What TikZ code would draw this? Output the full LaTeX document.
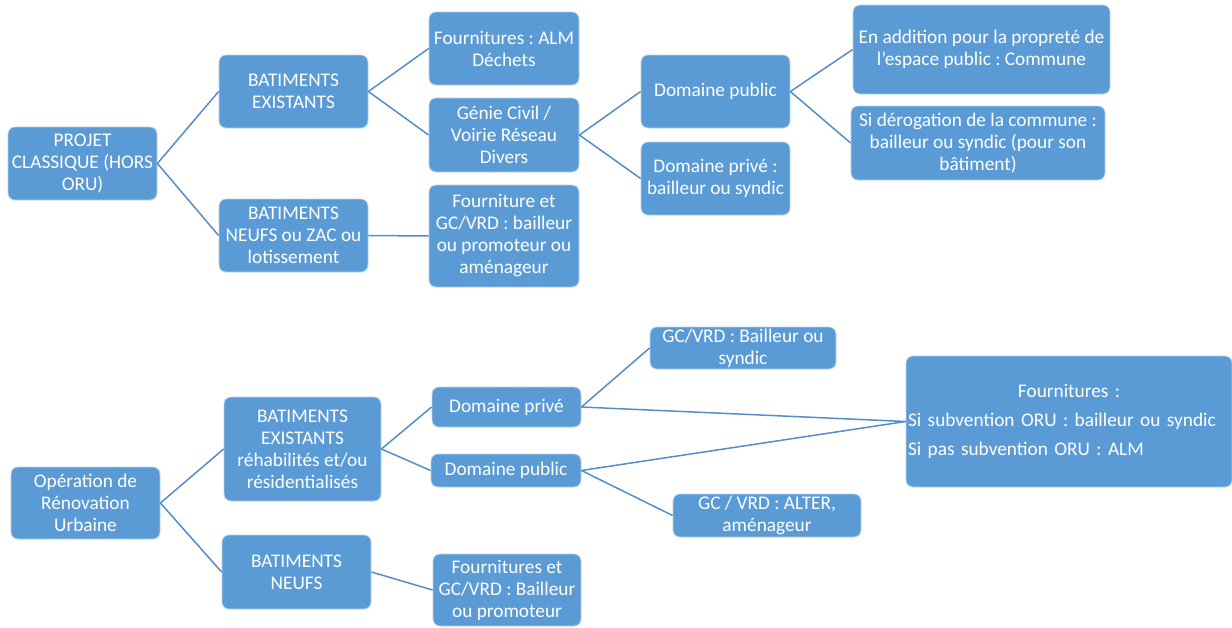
\documentclass[tikz,border=0pt]{standalone}
\usepackage{fontspec}
\setmainfont{Carlito}
\frenchspacing
\definecolor{boxblue}{RGB}{91,155,213}
\definecolor{linkblue}{RGB}{84,141,200}
\tikzset{
  box/.style={rectangle, rounded corners=7pt, fill=boxblue, draw=white!55!boxblue, line width=0.8pt,
    text=white, font=\fontsize{19.3}{22}\selectfont\frenchspacing, align=center, inner sep=0pt},
  link/.style={draw=linkblue, line width=1.5pt}
}
\begin{document}
\begin{tikzpicture}[x=1pt,y=-1pt]
\useasboundingbox (0,0) rectangle (1232,627);
% top tree
\node[box, minimum width=149pt, minimum height=73pt] (proj) at (82.5,163.5) {PROJET\\CLASSIQUE (HORS\\ORU)};
\node[box, minimum width=149pt, minimum height=73pt] (bex) at (293.5,91.5) {BATIMENTS\\EXISTANTS};
\node[box, minimum width=149pt, minimum height=73pt] (bneuf) at (293.5,235.5) {BATIMENTS\\NEUFS ou ZAC ou\\lotissement};
\node[box, minimum width=150pt, minimum height=73pt] (alm) at (504,48.5) {Fournitures : ALM\\Déchets};
\node[box, minimum width=150pt, minimum height=74pt] (gc) at (504,135) {Génie Civil /\\Voirie Réseau\\Divers};
\node[box, minimum width=150pt, minimum height=102pt] (fgc) at (504,236) {Fourniture et\\GC/VRD : bailleur\\ou promoteur ou\\aménageur};
\node[box, minimum width=149pt, minimum height=73pt] (dpub) at (715.5,91.5) {Domaine public};
\node[box, minimum width=149pt, minimum height=73pt] (dpriv) at (715.5,178.5) {Domaine privé :\\bailleur ou syndic};
\node[box, minimum width=257pt, minimum height=89pt] (add) at (981.5,49.5) {En addition pour la propreté de\\l’espace public : Commune};
\node[box, minimum width=254pt, minimum height=74pt] (derog) at (978,143) {Si dérogation de la commune :\\bailleur ou syndic (pour son\\bâtiment)};
% bottom tree
\node[box, minimum width=149pt, minimum height=72pt] (oru) at (85.5,503) {Opération de\\Rénovation\\Urbaine};
\node[box, minimum width=157pt, minimum height=104pt] (bex2) at (302.5,449) {BATIMENTS\\EXISTANTS\\réhabilités et/ou\\résidentialisés};
\node[box, minimum width=149pt, minimum height=74pt] (bneuf2) at (296.5,572) {BATIMENTS\\NEUFS};
\node[box, minimum width=149pt, minimum height=40pt] (dpriv2) at (506.5,407) {Domaine privé};
\node[box, minimum width=150pt, minimum height=33pt] (dpub2) at (506,470.5) {Domaine public};
\node[box, minimum width=186pt, minimum height=42pt] (gcb) at (743,348) {GC/VRD : Bailleur ou\\syndic};
\node[box, minimum width=188pt, minimum height=43pt] (gca) at (767,515.5) {GC / VRD : ALTER,\\aménageur};
\node[box, minimum width=148pt, minimum height=72pt] (fgc2) at (507,590) {Fournitures et\\GC/VRD : Bailleur\\ou promoteur};
\node[box, minimum width=326pt, minimum height=131pt, text width=322pt, inner xsep=2pt, align=left] (four) at (1069,421.5)
  {\parskip=7pt {\centering Fournitures :\par}\raggedright Si subvention ORU : bailleur ou syndic\par Si pas subvention ORU : ALM};
% connectors top
\draw[link] (proj.east) -- (bex.west);
\draw[link] (proj.east) -- (bneuf.west);
\draw[link] (bex.east) -- (alm.west);
\draw[link] (bex.east) -- (gc.west);
\draw[link] (bneuf.east) -- (fgc.west);
\draw[link] (gc.east) -- (dpub.west);
\draw[link] (gc.east) -- (dpriv.west);
\draw[link] (dpub.east) -- (add.west);
\draw[link] (dpub.east) -- (derog.west);
% connectors bottom
\draw[link] (oru.east) -- (bex2.west);
\draw[link] (oru.east) -- (bneuf2.west);
\draw[link] (bex2.east) -- (dpriv2.west);
\draw[link] (bex2.east) -- (dpub2.west);
\draw[link] (bneuf2.east) -- (fgc2.west);
\draw[link] (dpriv2.east) -- (gcb.west);
\draw[link] (dpriv2.east) -- (four.west);
\draw[link] (dpub2.east) -- (four.west);
\draw[link] (dpub2.east) -- (gca.west);
\end{tikzpicture}
\end{document}
